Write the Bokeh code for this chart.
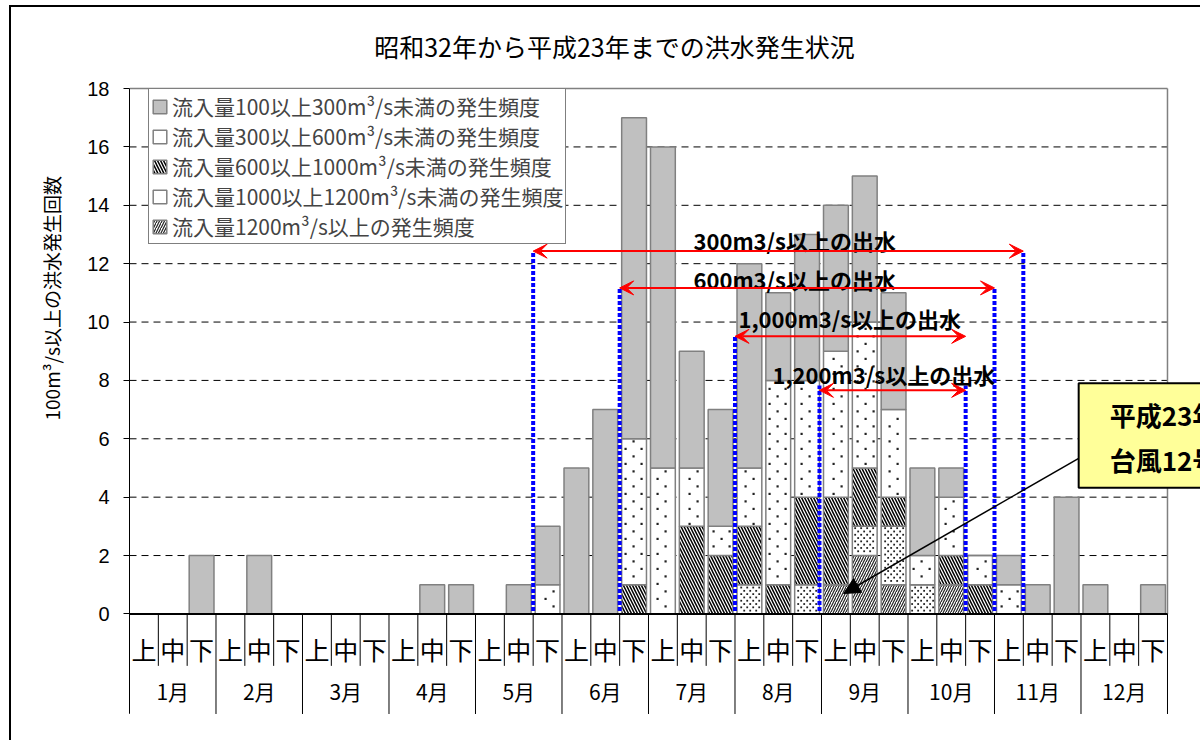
import numpy as np
from bokeh.plotting import figure
from bokeh.models import (Range1d, FixedTicker, Label, Legend, LegendItem, Arrow,
                          VeeHead, NormalHead, Title)
from bokeh.embed import file_html
from bokeh.resources import INLINE
from bokeh.core.properties import value

JP = "Noto Sans CJK JP"

title_text = "昭和32年から平成23年までの洪水発生状況"
y_label = "100m³/s以上の洪水発生回数"
months = ["1月", "2月", "3月", "4月", "5月", "6月", "7月", "8月", "9月", "10月", "11月", "12月"]
periods = ["上", "中", "下"]

band_labels = [
    "流入量100以上300m³/s未満の発生頻度",
    "流入量300以上600m³/s未満の発生頻度",
    "流入量600以上1000m³/s未満の発生頻度",
    "流入量1000以上1200m³/s未満の発生頻度",
    "流入量1200m³/s以上の発生頻度",
]
#               1月     2月     3月     4月     5月     6月      7月      8月     9月     10月    11月    12月
q100_300   = [0,0,2, 0,2,0, 0,0,0, 0,1,1, 0,1,2, 5,7,11, 11,4,4, 7,3,5, 5,5,4, 3,1,0, 1,1,4, 1,0,1]
q300_600   = [0,0,0, 0,0,0, 0,0,0, 0,0,0, 0,0,1, 0,0,5,  5,2,1, 2,7,4, 5,5,3, 1,2,1, 1,0,0, 0,0,0]
q600_1000  = [0,0,0, 0,0,0, 0,0,0, 0,0,0, 0,0,0, 0,0,1,  0,3,2, 2,1,3, 3,2,1, 0,1,1, 0,0,0, 0,0,0]
q1000_1200 = [0,0,0, 0,0,0, 0,0,0, 0,0,0, 0,0,0, 0,0,0,  0,0,0, 1,0,1, 0,1,2, 1,0,0, 0,0,0, 0,0,0]
q1200_up   = [0,0,0, 0,0,0, 0,0,0, 0,0,0, 0,0,0, 0,0,0,  0,0,0, 0,0,0, 1,2,1, 0,1,0, 0,0,0, 0,0,0]

# flood-period spans (category boundary indices) and their arrow levels
range_labels = ["300m3/s以上の出水", "600m3/s以上の出水", "1,000m3/s以上の出水", "1,200m3/s以上の出水"]
range_start = [14, 17, 21, 23.93]
range_end = [31, 30, 29, 29]
range_level = [12.43, 11.17, 9.51, 7.66]
range_label_x = [19.56, 19.56, 21.12, 22.3]
range_label_y = [12.81, 11.47, 10.13, 8.21]
blue_x = [14, 17, 21, 23.93, 29, 30, 31]
blue_top = [12.43, 11.17, 9.51, 7.83, 7.83, 11.17, 12.43]

callout_text = "平成23年\n台風12号"

n = len(q100_300)
x = np.arange(n) + 0.5
BAR_W = 0.86
table_bottom = -3.4286
y_top = 20.777


def texture_dots(bottoms, tops, dx, dy, pad_x, pad_y):
    """Staggered dot lattice filling the given bar segments (pattern texture)."""
    xs, ys = [], []
    for i in range(n):
        b, t = bottoms[i], tops[i]
        if t <= b:
            continue
        k0 = int(np.ceil((b + pad_y) / dy))
        k1 = int(np.floor((t - pad_y) / dy))
        left, right = x[i] - BAR_W / 2 + pad_x, x[i] + BAR_W / 2 - pad_x
        for k in range(k0, k1 + 1):
            off = (k % 2) * dx / 2
            j0 = int(np.ceil((left - off) / dx))
            j1 = int(np.floor((right - off) / dx))
            for j in range(j0, j1 + 1):
                xs.append(j * dx + off)
                ys.append(k * dy)
    return xs, ys


# page offset of the chart area: margin (top 7, left 11)
p = figure(width=1189, height=733, x_range=Range1d(0, 37.145), y_range=Range1d(-4.337, y_top),
           output_backend="svg", toolbar_location=None, x_axis_location=None, title_location=None,
           min_border_left=118, min_border_right=0, min_border_top=0, min_border_bottom=0)
p.margin = (7, 0, 0, 11)
p.styles = {"outline": "2px solid black"}
p.outline_line_color = None
p.background_fill_color = "white"
p.xgrid.visible = False
p.ygrid.visible = False

ax = p.yaxis[0]
ax.ticker = FixedTicker(ticks=list(range(0, 19, 2)))
ax.bounds = (table_bottom, 18)
ax.major_label_text_font = "Liberation Sans"
ax.major_label_text_font_size = "20px"
ax.major_label_text_color = "black"
ax.major_tick_out = 6
ax.major_tick_in = 0
ax.minor_tick_out = 0
ax.minor_tick_in = 0
ax.axis_line_color = "black"
ax.major_label_standoff = 14

# dashed value grid inside the plot area
grid_y = [2, 4, 6, 8, 10, 12, 14, 16]
p.segment(x0=[0] * len(grid_y), y0=grid_y, x1=[36] * len(grid_y), y1=grid_y,
          line_color="black", line_width=1, line_dash="7 5")

# stacked bands (bottom to top)
bands = [q1200_up, q1000_1200, q600_1000, q300_600, q100_300]
styles = [
    dict(fill_color="white", hatch_pattern="/", hatch_scale=5, hatch_weight=1.2, hatch_color="#222"),
    dict(fill_color="white"),
    dict(fill_color="white", hatch_pattern="\\", hatch_scale=6, hatch_weight=1.5, hatch_color="black"),
    dict(fill_color="white"),
    dict(fill_color="#C0C0C0"),
]
# dot textures: (dx, dy, pad_x, pad_y, dot size) for the dotted bands
dot_textures = {1: (0.208, 0.113, 0.05, 0.04, 1.8), 3: (0.555, 0.257, 0.1, 0.08, 2.2)}

base = np.zeros(n)
legend_renderers = []
for bi, (band, st) in enumerate(zip(bands, styles)):
    top = base + np.array(band, dtype=float)
    r = p.vbar(x=x, bottom=base.copy(), top=top, width=BAR_W, line_color="#808080", line_width=1.5, **st)
    if bi in dot_textures:
        dx, dy, px, py, sz = dot_textures[bi]
        dxs, dys = texture_dots(base, top, dx, dy, px, py)
        p.scatter(x=dxs, y=dys, marker="square", size=sz, fill_color="#222", line_color=None)
    legend_renderers.append(r)
    base = top
legend_renderers = legend_renderers[::-1]

# frame borders
p.segment(x0=[0, 36], y0=[18, 0], x1=[36, 36], y1=[18, 18], line_color="#808080", line_width=1.5)
p.segment(x0=[0], y0=[0], x1=[36], y1=[0], line_color="black", line_width=2)

# category table separators
kb = np.arange(0, 37)
sep_bottom = np.where(kb % 3 == 0, table_bottom, -1.78)
p.segment(x0=kb, y0=np.zeros(len(kb)), x1=kb, y1=sep_bottom, line_color="black", line_width=1)
p.text(x=x, y=-1.2, text=periods * 12, text_font=value(JP), text_font_size="25px",
       text_align="center", text_baseline="middle", text_color="black")
p.text(x=np.arange(12) * 3 + 1.5, y=-2.64, text=months, text_font=value(JP), text_font_size="21px",
       text_align="center", text_baseline="middle", text_color="black")

# blue dotted markers
p.segment(x0=blue_x, y0=[0.1] * len(blue_x), x1=blue_x, y1=blue_top, line_color="#0000FF",
          line_width=4, line_dash="4 2")

# red arrows
for s, e, lv in zip(range_start, range_end, range_level):
    p.add_layout(Arrow(x_start=s, y_start=lv, x_end=e, y_end=lv, line_color="red", line_width=2,
                       start=VeeHead(size=14, fill_color="red", line_color="red"),
                       end=VeeHead(size=14, fill_color="red", line_color="red")))
p.text(x=range_label_x, y=range_label_y, text=range_labels, text_font=value(JP), text_font_size="22px",
       text_font_style="bold", text_align="left", text_baseline="middle", text_color="black")

# callout
p.add_layout(Arrow(x_start=32.92, y_start=5.33, x_end=24.77, y_end=0.70, line_color="black", line_width=1.5,
                   end=NormalHead(size=16, fill_color="black", line_color="black")))
p.add_layout(Label(x=32.92, y=7.90, text=callout_text, text_font=JP, text_font_size="26px",
                   text_font_style="bold", text_align="left", text_baseline="top", text_color="black",
                   background_fill_color="#FFFF99", border_line_color="black", border_line_width=2,
                   padding=dict(left=31, right=60, top=13, bottom=10)))

# legend
legend = Legend(items=[LegendItem(label=lab, renderers=[r]) for lab, r in zip(band_labels, legend_renderers)],
                location=(19, 496))
legend.label_text_font = JP
legend.label_text_font_size = "21px"
legend.label_height = 27
legend.glyph_height = 17
legend.glyph_width = 17
legend.label_standoff = 4
legend.spacing = 0
legend.padding = 2
legend.margin = 0
legend.border_line_color = "black"
legend.border_line_width = 1
legend.background_fill_alpha = 1
p.add_layout(legend)

# title (inside the extended frame area above the plot) and y label
p.text(x=[16.82], y=[19.474], text=[title_text], text_font=value(JP), text_font_size="25px",
       text_align="center", text_baseline="middle", text_color="black")

p.add_layout(Title(text=y_label, align="left", offset=320, standoff=40, text_font=JP,
                   text_font_size="19px", text_font_style="normal", text_color="black"), "left")

open("out.html", "w").write(file_html(p, INLINE))
